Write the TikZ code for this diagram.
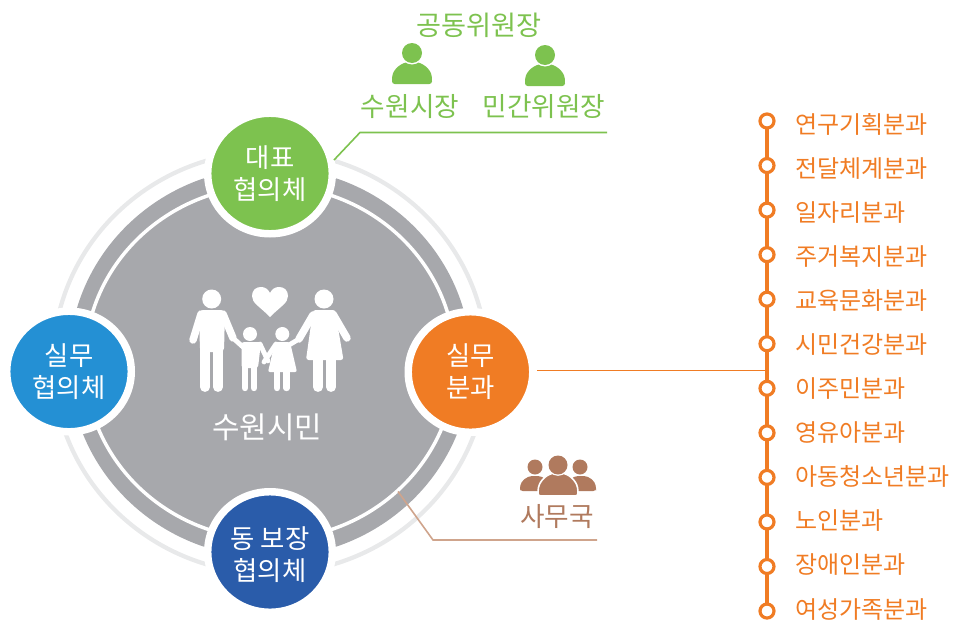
\documentclass[tikz,border=0pt]{standalone}
\usepackage{fontspec}
\setmainfont{Noto Sans CJK KR}
\usetikzlibrary{shapes.geometric}
\definecolor{grn}{HTML}{7DC24F}
\definecolor{org}{HTML}{F07C24}
\definecolor{blu}{HTML}{2490D4}
\definecolor{nav}{HTML}{2A5CAA}
\definecolor{gry}{HTML}{A7A8AC}
\definecolor{lgry}{HTML}{E8E9EA}
\definecolor{brn}{HTML}{B07A5E}
\definecolor{lbrn}{HTML}{CFA48C}
\tikzset{
 hub/.style={ellipse,draw=white,line width=5.6pt,minimum width=93.4pt,minimum height=90.4pt,inner sep=0pt,align=center,text=white,font=\fontsize{19.8pt}{24pt}\selectfont},
 ilabel/.style={anchor=west,inner sep=0pt,text=org,font=\fontsize{18pt}{20pt}\selectfont},
 dot/.style={circle,draw=org,fill=white,line width=2.4pt,minimum size=10.5pt,inner sep=0pt},
 glabel/.style={inner sep=0pt,text=grn,font=\fontsize{20pt}{22pt}\selectfont},
 limb/.style={white,line width=5.6pt,line cap=round,line join=round},
 thin limb/.style={white,line width=3.6pt,line cap=round,line join=round},
 leg/.style={white,line width=7.4pt,line cap=round},
 small leg/.style={white,line width=4.8pt,line cap=round}
}
\newcommand{\person}[3]{% x y colour
 \fill[#3,rounded corners=2pt] (#1-20,#2+19) -- (#1-20,#2+14) .. controls (#1-19,#2+4) and (#1-10,#2-3) .. (#1,#2-3) .. controls (#1+10,#2-3) and (#1+19,#2+4) .. (#1+20,#2+14) -- (#1+20,#2+19) -- cycle;
 \fill[white] (#1,#2-12) circle (11.5);
 \fill[#3] (#1,#2-12) circle (10);
}
\begin{document}
\begin{tikzpicture}[x=0.75pt,y=-0.75pt]
\useasboundingbox (0,0) rectangle (954,625);
\coordinate (c) at (270,362.5);
% rings
\draw[lgry,line width=3.2pt] (c) ellipse [x radius=217,y radius=211];
\fill[gry] (c) ellipse [x radius=201,y radius=195];
\draw[white,line width=2.6pt] (c) ellipse [x radius=185,y radius=177];
% hubs
\node[hub,fill=grn] (top) at (270,173.5) {대표\\협의체};
\node[hub,fill=blu] (left) at (69,371.5) {실무\\협의체};
\node[hub,fill=org] (right) at (470.5,372) {실무\\분과};
\node[hub,fill=nav] (bot) at (270,552) {\rule{0pt}{21pt}동 보장\\협의체};
% family
\node[inner sep=0pt,text=white,font=\fontsize{22.4pt}{24pt}\selectfont] (cit) at (267,427) {수원시민};
\fill[white] (270,317) .. controls (259,306) and (252,303) .. (252,296) .. controls (252,290) and (256,287) .. (261,287) .. controls (265,287) and (268,289) .. (270,293) .. controls (272,289) and (275,287) .. (279,287) .. controls (284,287) and (288,290) .. (288,296) .. controls (288,303) and (281,306) .. (270,317) -- cycle;
% man
\fill[white] (211.7,299) circle (9.5);
\fill[white,rounded corners=3pt] (199,310) -- (225,310) -- (224,352) -- (200,352) -- cycle;
\draw[leg] (205,345) -- (205,387);
\draw[leg] (218,345) -- (218,387);
\draw[limb] (201,314) -- (193,340);
\draw[limb] (223,314) -- (233,338);
\draw[thin limb] (233,338) -- (243,347);
% boy
\fill[white] (250,334) circle (7);
\fill[white,rounded corners=2pt] (241.5,342) -- (261,342) -- (258,368) -- (241.5,368) -- cycle;
\draw[small leg] (245,362) -- (245,388);
\draw[small leg] (254,362) -- (254,388);
\draw[thin limb] (260,344) -- (268,361);
% girl
\fill[white] (282.3,334) circle (7);
\fill[white,rounded corners=1.5pt] (275,342) -- (290,342) -- (297,372) -- (268,372) -- cycle;
\draw[small leg] (277,368) -- (277,388);
\draw[small leg] (286.5,368) -- (286.5,388);
\draw[thin limb] (276,344) -- (264,362);
\draw[thin limb] (289,345) -- (299,339);
\draw[limb] (299,339) -- (313,315);
% woman
\fill[white] (324,299) circle (9.5);
\fill[white,rounded corners=2pt] (313,310) -- (335,310) -- (343.5,360) -- (306,360) -- cycle;
\draw[leg] (318,357) -- (318,387);
\draw[leg] (331,357) -- (331,387);
\draw[limb] (333,314) -- (347,338);
% top callout
\coordinate (g1) at (334,160);
\coordinate (g2) at (360,132.5);
\coordinate (g3) at (607,132.5);
\draw[grn,line width=1.2pt] (g1) -- (g2) -- (g3);
\node[glabel,font=\fontsize{20.4pt}{22pt}\selectfont] (co) at (479,25) {공동위원장};
\person{412}{65}{grn}
\person{545}{67}{grn}
\node[glabel] (suwon) at (410,107) {수원시장};
\node[glabel] (civ) at (544,107) {민간위원장};
% secretariat
\coordinate (s1) at (398,491.5);
\coordinate (s2) at (433,540);
\coordinate (s3) at (597,540);
\draw[lbrn,line width=1.2pt] (s1) -- (s2) -- (s3);
\fill[brn] (535,467) circle (7.5);
\fill[brn] (580,467) circle (7.5);
\fill[brn,rounded corners=2pt] (520,491) -- (520,488) .. controls (521,481) and (527,476) .. (535,476) .. controls (543,476) and (549,481) .. (550,488) -- (550,491) -- cycle;
\fill[brn,rounded corners=2pt] (596,491) -- (596,488) .. controls (595,481) and (589,476) .. (581,476) .. controls (573,476) and (567,481) .. (566,488) -- (566,491) -- cycle;
\fill[brn,draw=white,line width=1.2pt,rounded corners=2pt] (538,496) -- (538,490) .. controls (540,480) and (548,473) .. (558,473) .. controls (568,473) and (576,480) .. (578,490) -- (578,496) -- cycle;
\fill[white] (558,465) circle (10.8);
\fill[brn] (558,465) circle (9.5);
\node[inner sep=0pt,text=brn,font=\fontsize{20pt}{22pt}\selectfont] (sam) at (557,517) {사무국};
% list
\draw[org,line width=0.9pt] (537,370.7) -- (767,370.7);
\draw[org,line width=3pt] (767,121) -- (767,611);
\foreach \n/\t [count=\i from 0] in {a/연구기획분과,b/전달체계분과,c/일자리분과,d/주거복지분과,e/교육문화분과,f/시민건강분과,g/이주민분과,h/영유아분과,i/아동청소년분과,j/노인분과,k/장애인분과,l/여성가족분과}{
 \node[dot] (d\n) at (767,{121+44.55*\i}) {};
 \node[ilabel] (t\n) at (795,{124+44.1*\i}) {\t};
}
\end{tikzpicture}
\end{document}
